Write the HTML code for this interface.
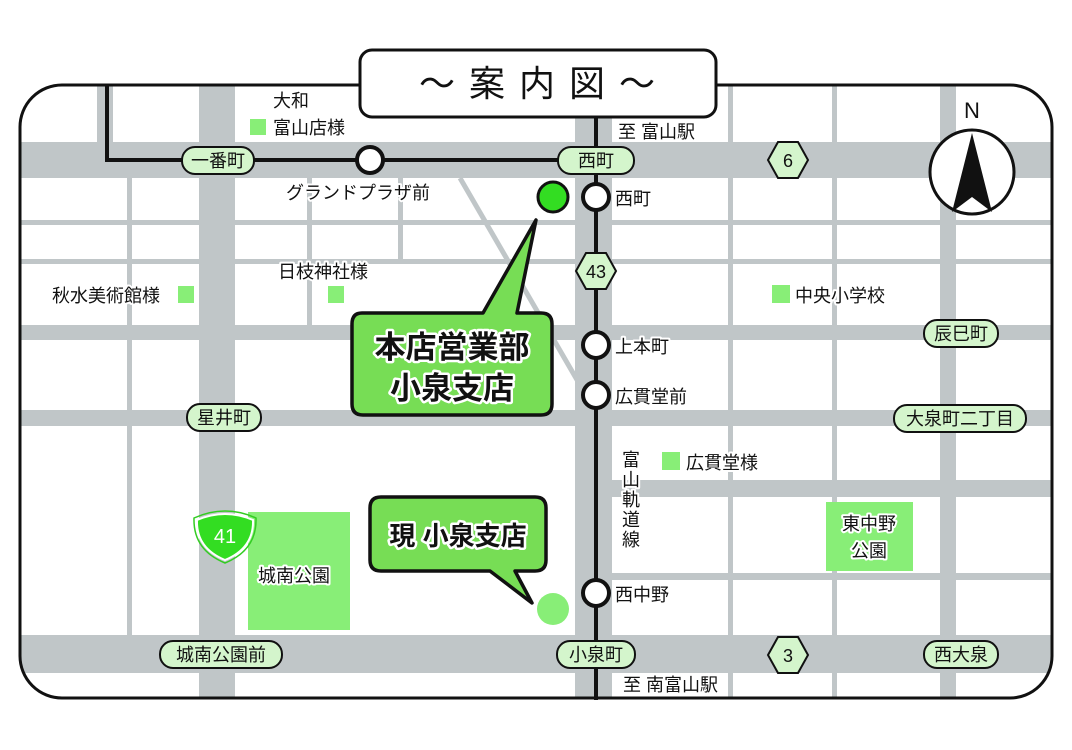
<!DOCTYPE html>
<html><head><meta charset="utf-8"><style>
html,body{margin:0;padding:0;background:#fff}
svg{display:block}
text{font-family:"Liberation Sans","Noto Sans CJK JP",sans-serif;fill:#111}
.o{paint-order:stroke;stroke:#fff;stroke-width:4px;stroke-linejoin:round}
.b{font-weight:bold;paint-order:stroke;stroke:#fff;stroke-width:5px;stroke-linejoin:round}
</style></head><body>
<svg width="1072" height="750" viewBox="0 0 1072 750" xmlns="http://www.w3.org/2000/svg">
<defs><clipPath id="c"><rect x="20" y="85" width="1032" height="613" rx="42"/></clipPath></defs>
<g clip-path="url(#c)" fill="#c0c6c8">
<!-- horizontals -->
<rect x="0" y="142" width="1072" height="36"/>
<rect x="0" y="220" width="1072" height="5"/>
<rect x="0" y="259" width="1072" height="5"/>
<rect x="0" y="325" width="1072" height="15"/>
<rect x="0" y="410" width="1072" height="16"/>
<rect x="612" y="480" width="460" height="17"/>
<rect x="612" y="573" width="460" height="7"/>
<rect x="0" y="635" width="1072" height="38"/>
<!-- verticals -->
<rect x="97" y="80" width="16" height="98"/>
<rect x="127" y="178" width="5" height="457"/>
<rect x="199" y="80" width="36" height="640"/>
<rect x="307" y="178" width="5" height="162"/>
<rect x="398" y="178" width="5" height="86"/>
<rect x="575" y="80" width="37" height="640"/>
<rect x="728" y="80" width="5" height="640"/>
<rect x="832" y="80" width="5" height="640"/>
<rect x="940" y="80" width="16" height="640"/>
<line x1="460" y1="178" x2="580" y2="385" stroke="#c0c6c8" stroke-width="5"/>
</g>
<rect x="20" y="85" width="1032" height="613" rx="42" fill="none" stroke="#111" stroke-width="3"/>
<!-- parks & markers -->
<g fill="#88ee77">
<rect x="248" y="512" width="102" height="118"/>
<rect x="826" y="502" width="87" height="69"/>
<rect x="250" y="119" width="16" height="16"/>
<rect x="178" y="286" width="16" height="17"/>
<rect x="328" y="286" width="16" height="17"/>
<rect x="772" y="285" width="18" height="18"/>
<rect x="662" y="452" width="18" height="18"/>
<circle cx="553" cy="609" r="16"/>
</g>
<!-- railway -->
<polyline points="107,85 107,160 596,160" fill="none" stroke="#111" stroke-width="4"/>
<line x1="596" y1="115" x2="596" y2="700" stroke="#111" stroke-width="4"/>
<!-- stations -->
<g fill="#fff" stroke="#111" stroke-width="4">
<circle cx="370" cy="160" r="13"/><circle cx="596" cy="197" r="13"/><circle cx="596" cy="345" r="13"/><circle cx="596" cy="395" r="13"/><circle cx="596" cy="593" r="13"/>
</g>
<circle cx="553" cy="197" r="15" fill="#33dd22" stroke="#111" stroke-width="3"/>
<!-- pills -->
<g fill="#d4f5cc" stroke="#111" stroke-width="2">
<rect x="182" y="147" width="72" height="27" rx="13"/>
<rect x="558" y="147" width="76" height="27" rx="13"/>
<rect x="924" y="320" width="74" height="27" rx="13"/>
<rect x="187" y="404" width="74" height="27" rx="13"/>
<rect x="894" y="405" width="132" height="27" rx="13"/>
<rect x="160" y="641" width="122" height="27" rx="13"/>
<rect x="557" y="641" width="78" height="27" rx="13"/>
<rect x="924" y="641" width="74" height="27" rx="13"/>
</g>
<g font-size="18" text-anchor="middle">
<text x="218" y="167">一番町</text><text x="596" y="167">西町</text><text x="961" y="340">辰巳町</text>
<text x="224" y="424">星井町</text><text x="960" y="425">大泉町二丁目</text><text x="221" y="661">城南公園前</text>
<text x="596" y="661">小泉町</text><text x="961" y="661">西大泉</text>
</g>
<!-- hexagons -->
<g fill="#d4f5cc" stroke="#111" stroke-width="2">
<polygon points="768,160 778,142 798,142 808,160 798,178 778,178"/>
<polygon points="576,271 586,253 606,253 616,271 606,289 586,289"/>
<polygon points="768,655 778,637 798,637 808,655 798,673 778,673"/>
</g>
<g font-size="18" text-anchor="middle"><text x="788" y="167">6</text><text x="596" y="278">43</text><text x="788" y="662">3</text></g>
<!-- route 41 -->
<path d="M197,520 Q225,508 253,520 Q254,548 225,560 Q196,548 197,520Z" fill="#33dd22" stroke="#fff" stroke-width="2"/>
<path d="M194,518 Q225,504 256,518 Q257,550 225,563 Q193,550 194,518Z" fill="none" stroke="#33cc22" stroke-width="1.5"/>
<text x="225" y="543" font-size="20" text-anchor="middle" style="fill:#fff">41</text>
<!-- title -->
<rect x="360" y="50" width="356" height="67" rx="12" fill="#fff" stroke="#111" stroke-width="3"/>
<text x="538" y="96" font-size="36" text-anchor="middle" letter-spacing="2">〜 案 内 図 〜</text>
<!-- compass -->
<circle cx="972" cy="172" r="42" fill="#fff" stroke="#111" stroke-width="3"/>
<polygon points="972,133 992,212 972,197 952,212" fill="#111"/>
<text x="972" y="118" font-size="22" text-anchor="middle">N</text>
<!-- callouts -->
<path d="M362,313 H483 L536,220 L517,313 H541 Q552,313 552,324 V404 Q552,415 541,415 H363 Q352,415 352,404 V324 Q352,313 362,313Z" fill="#77dd55" stroke="#111" stroke-width="3.5" stroke-linejoin="round"/>
<text x="452" y="358" font-size="31" class="b" text-anchor="middle">本店営業部</text>
<text x="452" y="399" font-size="31" class="b" text-anchor="middle">小泉支店</text>
<path d="M381,497 H535 Q546,497 546,508 V560 Q546,571 535,571 H515 L532,603 L490,571 H381 Q370,571 370,560 V508 Q370,497 381,497Z" fill="#77dd55" stroke="#111" stroke-width="3.5" stroke-linejoin="round"/>
<text x="458" y="545" font-size="26" class="b" text-anchor="middle">現 小泉支店</text>
<!-- labels -->
<g font-size="18">
<text x="273" y="107" class="o">大和</text>
<text x="273" y="134" class="o">富山店様</text>
<text x="286" y="199" class="o">グランドプラザ前</text>
<text x="618" y="138" class="o">至 富山駅</text>
<text x="615" y="205" class="o">西町</text>
<text x="52" y="302" class="o">秋水美術館様</text>
<text x="278" y="278" class="o">日枝神社様</text>
<text x="795" y="302" class="o">中央小学校</text>
<text x="615" y="353" class="o">上本町</text>
<text x="615" y="403" class="o">広貫堂前</text>
<text x="686" y="469" class="o">広貫堂様</text>
<text x="615" y="601" class="o">西中野</text>
<text x="623" y="691" class="o">至 南富山駅</text>
<text x="258" y="582" class="o">城南公園</text>
<text x="869" y="530" text-anchor="middle" class="o">東中野</text>
<text x="869" y="557" text-anchor="middle" class="o">公園</text>
</g>
<g font-size="18" text-anchor="middle">
<text x="631" y="466" class="o">富</text><text x="631" y="486" class="o">山</text><text x="631" y="506" class="o">軌</text><text x="631" y="526" class="o">道</text><text x="631" y="546" class="o">線</text>
</g>
</svg>
</body></html>
